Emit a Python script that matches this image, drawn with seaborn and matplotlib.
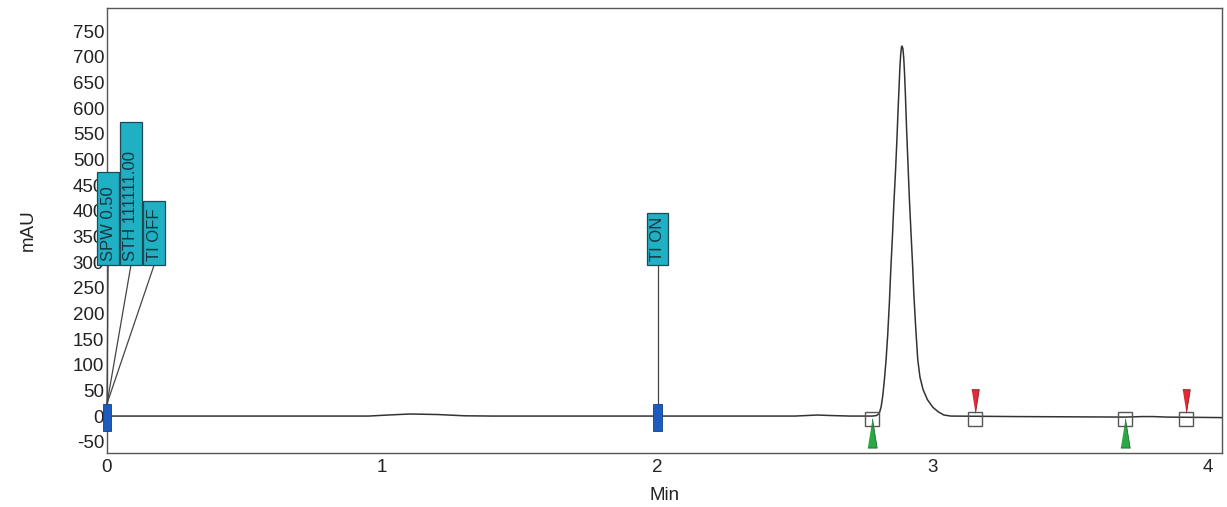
import numpy as np
import pandas as pd
import matplotlib.pyplot as plt
from matplotlib.patches import Rectangle
import seaborn as sns

# chromatogram trace (time in min, signal in mAU)
trace_time = [0.00, 0.50, 0.95, 1.02, 1.10, 1.20, 1.30, 1.40, 2.00, 2.50, 2.58, 2.63, 2.70,
              2.780, 2.795, 2.805, 2.812, 2.818, 2.824, 2.830, 2.836, 2.842, 2.847, 2.853,
              2.858, 2.864, 2.869, 2.873, 2.877, 2.880, 2.883, 2.886, 2.888, 2.891, 2.894,
              2.897, 2.900, 2.904, 2.909, 2.914, 2.920, 2.926, 2.931, 2.938, 2.945, 2.953,
              2.964, 2.980, 3.000, 3.020, 3.040, 3.065, 3.30, 3.70, 3.76, 3.80, 3.85, 4.05]
trace_mau = [0, 0, 0, 2, 4, 3, 0.5, 0, 0, 0, 2, 1, 0,
             0, 1, 5, 18, 40, 72, 110, 160, 222, 285, 350,
             412, 475, 535, 590, 640, 678, 705, 719, 721, 716, 698,
             668, 628, 565, 498, 430, 362, 297, 235, 168, 110, 76,
             52, 32, 17, 8, 2, 0, -1, -2, -1, -1, -2, -3]

# timed events (blue marks with labels)
event_time = [0.0, 2.0]
event_labels = [["SPW 0.50", "STH 111111.00", "TI OFF"], ["TI ON"]]
label_offsets = [[0.004, 0.087, 0.171], [0.0]]
label_tops = [[476, 573, 419], [396]]

# peak integration marks
peak_start = [2.778, 3.698]
peak_end = [3.153, 3.920]

xticks = [0, 1, 2, 3, 4]
yticks = list(range(-50, 800, 50))

sns.set_style("white")
plt.rcParams["font.family"] = ["Liberation Sans", "DejaVu Sans"]
plt.rcParams["axes.unicode_minus"] = False

fig = plt.figure(figsize=(12.27, 5.07), dpi=100)
ax = fig.add_axes([0.0872, 0.1065, 0.9087, 0.8775])

df = pd.DataFrame({"Min": trace_time, "mAU": trace_mau})
sns.lineplot(data=df, x="Min", y="mAU", ax=ax, color="#333333", linewidth=1.1, zorder=3)

ax.set_xlim(0, 4.05)
ax.set_ylim(-72, 795)
ax.set_xticks(xticks)
ax.set_yticks(yticks)
ax.tick_params(axis="both", length=0, labelsize=13.5, pad=2, colors="#222222")
ax.tick_params(axis="x", pad=4)
ax.set_xlabel("Min", fontsize=13.5, color="#222222", labelpad=8)
ax.set_ylabel("mAU", fontsize=13.5, color="#222222", labelpad=26)
for sp in ax.spines.values():
    sp.set_color("#555555")
    sp.set_linewidth(1.0)

# event markers and labels
box_w = 0.078
box_bottom = 294
for t, labels, offs, tops in zip(event_time, event_labels, label_offsets, label_tops):
    ax.add_patch(Rectangle((t - 0.016, -29), 0.032, 53, facecolor="#1d5bbf",
                           edgecolor="#123f8a", linewidth=0.6, zorder=5, clip_on=False))
    for lab, off, top in zip(labels, offs, tops):
        cx = t + off
        ax.plot([cx, t], [box_bottom, 24], color="#444444", linewidth=0.9,
                zorder=4, clip_on=False)
        ax.add_patch(Rectangle((cx - box_w / 2, box_bottom), box_w, top - box_bottom,
                               facecolor="#1fb0c4", edgecolor="#1f4a55", linewidth=0.9,
                               zorder=6, clip_on=False))
        ax.text(cx, box_bottom + 8, lab, rotation=90, ha="center", va="bottom",
                fontsize=12, color="#163540", zorder=7)

# peak start / end marks
tri_up = [(-0.32, -1), (0.32, -1), (0, 1)]
tri_down = [(-0.32, 1), (0.32, 1), (0, -1)]
base = [-5] * len(peak_start)
ax.plot(peak_start + peak_end, base + base, linestyle="none", marker="s", markersize=10,
        markerfacecolor="none", markeredgecolor="#555555", markeredgewidth=1.0, zorder=6)
ax.plot(peak_start, [-33] * len(peak_start), linestyle="none", marker=tri_up, markersize=21,
        markerfacecolor="#2aa845", markeredgecolor="#1d6b2c", markeredgewidth=0.6, zorder=5)
ax.plot(peak_end, [29] * len(peak_end), linestyle="none", marker=tri_down, markersize=17,
        markerfacecolor="#e02a36", markeredgecolor="#8a1a20", markeredgewidth=0.6, zorder=5)

fig.savefig("out.png", dpi=100)
